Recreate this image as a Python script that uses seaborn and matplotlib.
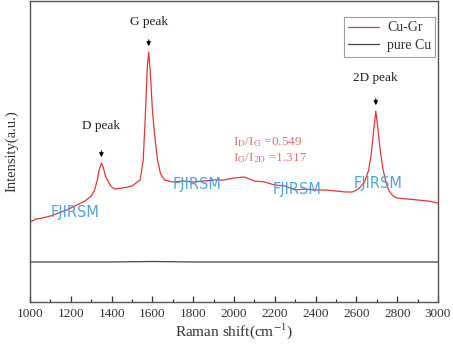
import matplotlib
matplotlib.use("Agg")
import matplotlib.pyplot as plt
import seaborn as sns
import pandas as pd

# Raman shift (cm^-1) and intensities (a.u.)
shift_cugr = [1000, 1030, 1060, 1100, 1140, 1180, 1200, 1240, 1270, 1300, 1315, 1330,
              1340, 1350, 1360, 1370, 1385, 1400, 1420, 1450, 1480, 1500, 1520, 1540,
              1555, 1565, 1575, 1582, 1590, 1600, 1610, 1625, 1640, 1660, 1700, 1750,
              1800, 1850, 1900, 1950, 2000, 2050, 2100, 2150, 2200, 2250, 2300, 2350,
              2400, 2450, 2500, 2550, 2580, 2610, 2640, 2660, 2672, 2684, 2695, 2706,
              2718, 2730, 2745, 2760, 2780, 2800, 2850, 2900, 2950, 3000]
int_cugr = [80, 83, 84, 86, 89, 92, 94, 98, 101, 106, 111, 122,
            133, 139, 134, 126, 120, 115, 113, 114, 115, 116, 119, 122,
            142, 185, 235, 250, 229, 192, 169, 142, 128, 122, 120, 121,
            120, 121, 122, 122, 124, 125, 121, 120, 117, 116, 112, 113,
            112, 112, 111, 110, 110, 113, 120, 132, 147, 170, 191, 172,
            150, 133, 120, 111, 106, 104, 103, 102, 101, 99]
shift_cu = [1000, 1200, 1400, 1600, 1800, 2000, 2200, 2400, 2600, 2800, 3000]
int_cu = [40, 40, 40, 40.5, 40, 40, 40, 40, 40, 40, 40]

series_names = ["Cu-Gr", "pure Cu"]
peak_labels = ["D peak", "G peak", "2D peak"]
peak_pos = [1350, 1582, 2695]
peak_int = [139, 250, 191]
peak_label_y = [176, 280, 224]
ratio_lines = [r"I$_\mathrm{D}$/I$_\mathrm{G}$ =0.549", r"I$_\mathrm{G}$/I$_\mathrm{2D}$ =1.317"]
watermark_x = [1100, 1700, 2190, 2585]
watermark_y = [90, 117, 112, 118]

df = pd.concat([
    pd.DataFrame({"shift": shift_cugr, "intensity": int_cugr, "sample": series_names[0]}),
    pd.DataFrame({"shift": shift_cu, "intensity": int_cu, "sample": series_names[1]}),
])

sns.set_theme(style="white")
plt.rcParams["font.family"] = ["Liberation Serif", "DejaVu Serif"]
plt.rcParams["mathtext.fontset"] = "stix"

fig = plt.figure(figsize=(4.53, 3.46), dpi=100)
ax = fig.add_axes([30 / 453, 44 / 346, 408 / 453, 301 / 346])

sns.lineplot(data=df, x="shift", y="intensity", hue="sample", sort=False,
             palette={series_names[0]: "#e8352f", series_names[1]: "#444444"},
             linewidth=0.9, ax=ax, legend=True)

ax.set_xlim(1000, 3000)
ax.set_ylim(0, 301)
ax.set_xticks(range(1000, 3001, 200))
ax.set_xticks(range(1100, 3000, 200), minor=True)
ax.set_yticks([])
ax.tick_params(axis="x", which="major", direction="in", length=4, width=0.9,
               labelsize=9.5, colors="#333333", pad=4, bottom=True)
ax.tick_params(axis="x", which="minor", direction="in", length=2.5, width=0.8, bottom=True)
for sp in ax.spines.values():
    sp.set_color("#555555")
    sp.set_linewidth(1.0)
ax.set_xlabel("Raman shift(cm$^{-1}$)", fontsize=11, color="#333333", labelpad=1)
ax.set_ylabel("Intensity(a.u.)", fontsize=10.5, color="#333333", labelpad=8)

for lab, px, py, ly in zip(peak_labels, peak_pos, peak_int, peak_label_y):
    ax.annotate("", xy=(px, py + 3), xytext=(px, py + 15),
                arrowprops=dict(arrowstyle="-|>", color="black", lw=0.8,
                                mutation_scale=6))
    ax.text(px, ly, lab, ha="center", va="center", fontsize=9.5, color="#222222")

ax.text(1995, 160, ratio_lines[0], fontsize=9.5, color="#e87070", ha="left", va="center")
ax.text(1995, 144, ratio_lines[1], fontsize=9.5, color="#e87070", ha="left", va="center")

for wx, wy in zip(watermark_x, watermark_y):
    ax.text(wx, wy, "FJIRSM", fontsize=10.5, color="#3a9ce0", family="DejaVu Sans",
            ha="left", va="center", alpha=0.9)

leg = ax.legend(loc="upper right", bbox_to_anchor=(1.0, 0.955), fontsize=10,
                frameon=True, fancybox=False, borderpad=0.3, borderaxespad=0.2,
                handlelength=2.2, handletextpad=0.6, labelspacing=0.35, title=None)
leg.get_frame().set_edgecolor("#888888")
leg.get_frame().set_linewidth(0.8)
for t in leg.get_texts():
    t.set_color("#333333")

fig.savefig("out.png", dpi=100)
